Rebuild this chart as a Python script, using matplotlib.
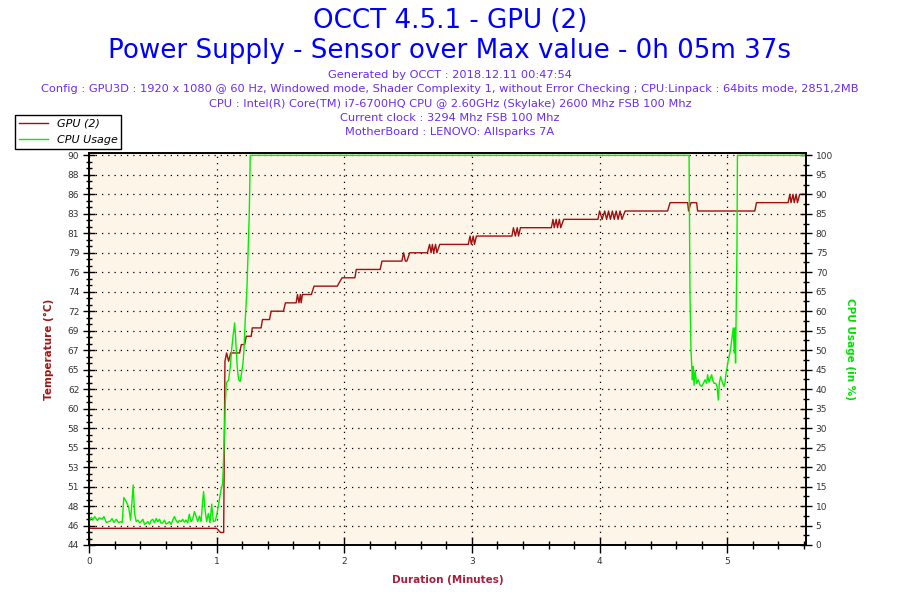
import matplotlib
matplotlib.use("Agg")
import matplotlib.pyplot as plt
from matplotlib.ticker import AutoMinorLocator
import numpy as np

# GPU (2) temperature, minutes / deg C
gpu_time = [0.0, 1.00, 1.03, 1.055, 1.065, 1.078, 1.094, 1.11, 1.18, 1.193, 1.219, 1.232,
            1.271, 1.279, 1.348, 1.359, 1.414, 1.427, 1.523, 1.539, 1.623, 1.633, 1.645,
            1.656, 1.662, 1.672, 1.742, 1.763, 1.945, 1.982, 2.083, 2.094, 2.281, 2.295,
            2.451, 2.465, 2.478, 2.49, 2.513, 2.651, 2.668, 2.68, 2.69, 2.70, 2.715, 2.725,
            2.748, 2.971, 2.985, 2.995, 3.01, 3.02, 3.035, 3.313, 3.325, 3.34, 3.355, 3.365,
            3.38, 3.622, 3.635, 3.645, 3.66, 3.67, 3.685, 3.695, 3.719, 3.987, 4.0, 4.02,
            4.04, 4.055, 4.07, 4.085, 4.1, 4.115, 4.13, 4.145, 4.16, 4.175, 4.2, 4.533,
            4.552, 4.69, 4.697, 4.716, 4.76, 4.768, 5.216, 5.229, 5.477, 5.49, 5.50, 5.515,
            5.525, 5.54, 5.55, 5.568, 5.617]
gpu_temp = [46, 46, 45.5, 45.5, 66, 67, 66, 67, 67, 68, 68, 69,
            69, 70, 70, 71, 71, 72, 72, 73, 73, 74, 73,
            74, 73, 74, 74, 75, 75, 76, 76, 77, 77, 78,
            78, 79, 78, 78, 79, 79, 80, 79, 80, 79, 80, 79,
            80, 80, 81, 80, 81, 80, 81, 81, 82, 81, 82, 81,
            82, 82, 83, 82, 83, 82, 83, 82, 83, 83, 84, 83,
            84, 83, 84, 83, 84, 83, 84, 83, 84, 83, 84, 84,
            85, 85, 84, 85, 85, 84, 84, 85, 85, 86, 85, 86,
            85, 86, 85, 86, 86]

# CPU usage, minutes / percent
cpu_time = [0.0, 0.018, 0.031, 0.044, 0.065, 0.083, 0.102, 0.117, 0.135, 0.154, 0.169,
            0.18, 0.195, 0.214, 0.232, 0.247, 0.26, 0.273, 0.292, 0.31, 0.326, 0.346,
            0.357, 0.37, 0.383, 0.396, 0.409, 0.422, 0.435, 0.448, 0.461, 0.474, 0.487,
            0.5, 0.513, 0.526, 0.539, 0.552, 0.565, 0.578, 0.591, 0.604, 0.617, 0.63,
            0.643, 0.656, 0.669, 0.682, 0.695, 0.708, 0.721, 0.734, 0.747, 0.76, 0.773,
            0.786, 0.799, 0.812, 0.826, 0.839, 0.852, 0.865, 0.878, 0.891, 0.898, 0.909,
            0.922, 0.935, 0.948, 0.961, 0.974, 0.99, 1.003, 1.021, 1.034, 1.047, 1.057,
            1.068, 1.076, 1.094, 1.107, 1.117, 1.128, 1.141, 1.148, 1.154, 1.161, 1.172,
            1.185, 1.198, 1.206, 1.214, 1.224, 1.237, 1.247, 1.255, 1.26, 1.263,
            4.701, 4.708, 4.716, 4.727, 4.732, 4.74, 4.748, 4.76, 4.773, 4.787, 4.8,
            4.813, 4.826, 4.839, 4.846, 4.857, 4.87, 4.878, 4.885, 4.896, 4.909, 4.92,
            4.93, 4.938, 4.948, 4.956, 4.964, 4.974, 4.982, 4.99, 5.0, 5.008, 5.021,
            5.029, 5.039, 5.047, 5.055, 5.06, 5.065, 5.07, 5.076, 5.08, 5.617]
cpu_usage = [6.0, 7.1, 6.4, 7.3, 6.3, 7.0, 6.6, 7.3, 5.8, 6.0, 6.2,
             6.8, 5.8, 6.6, 5.7, 6.0, 5.8, 12.2, 11.1, 9.8, 6.4, 15.4,
             8.1, 6.0, 6.4, 5.7, 6.0, 6.6, 5.3, 5.6, 6.0, 5.3, 6.3,
             6.6, 5.7, 6.8, 6.0, 6.6, 5.6, 5.7, 6.4, 5.4, 5.6, 6.0,
             5.3, 6.4, 7.3, 6.3, 5.7, 6.3, 6.0, 6.6, 5.9, 6.4, 5.7,
             7.9, 6.0, 6.6, 8.6, 7.3, 6.0, 7.4, 6.0, 11.6, 13.7, 9.0,
             6.0, 8.1, 5.7, 10.5, 6.0, 6.2, 8.1, 11.6, 14.1, 15.8, 24.4,
             36.5, 41.6, 42.4, 45.8, 50.0, 53.5, 57.0, 53.5, 50.0, 45.8, 42.4,
             42.0, 44.8, 46.5, 50.0, 57.8, 65.5, 75.8, 84.3, 93.0, 100,
             100, 64.7, 50.0, 42.4, 45.8, 41.0, 44.8, 41.5, 42.4, 41.0, 40.7,
             41.5, 42.4, 41.5, 43.7, 41.8, 43.0, 43.7, 42.4, 41.5, 41.5, 40.7,
             37.2, 41.5, 43.2, 42.4, 41.5, 40.7, 41.5, 44.1, 45.8, 47.5, 49.3,
             51.0, 53.5, 55.7, 49.3, 55.7, 46.7, 59.5, 75.8, 100, 100]

temp_tick_labels = [44, 46, 48, 51, 53, 55, 58, 60, 62, 65, 67, 69, 72, 74, 76, 79, 81, 83, 86, 88, 90]
temp_min, temp_span = 44, 140 / 3      # left scale covers the same range as 0..100 %
cpu_ticks = list(range(0, 101, 5))
cpu_top = 100.6                        # a little headroom so the 100 % line shows
x_ticks = [0, 1, 2, 3, 4, 5]
x_max = 5.617

red = "#a01010"
green = "#00ee00"
bg = "#fdf6e8"
sub_col = "#6a2cf0"

fig = plt.figure(figsize=(9, 6), dpi=100)
ax = fig.add_axes([89 / 900, 55 / 600, 717 / 900, 392 / 600])
ax2 = ax.twinx()
ax.set_facecolor(bg)

l1, = ax.plot(gpu_time, gpu_temp, color=red, lw=1.0, label="GPU (2)")
l2, = ax2.plot(cpu_time, cpu_usage, color=green, lw=1.0, label="CPU Usage")

ax.set_xlim(0, x_max)
ax.set_ylim(temp_min, temp_min + temp_span * cpu_top / 100)
ax2.set_ylim(0, cpu_top)

ax.set_xticks(x_ticks)
ax.xaxis.set_minor_locator(AutoMinorLocator(5))
ax.set_yticks(np.linspace(temp_min, temp_min + temp_span, len(temp_tick_labels)))
ax.set_yticklabels([str(v) for v in temp_tick_labels])
ax.yaxis.set_minor_locator(AutoMinorLocator(3))
ax2.set_yticks(cpu_ticks)
ax2.yaxis.set_minor_locator(AutoMinorLocator(2))

for a in (ax, ax2):
    a.tick_params(which="major", direction="inout", length=8, width=1, labelsize=6.5,
                  labelcolor="#333333", color="black", pad=3)
    a.tick_params(which="minor", direction="inout", length=4, width=1, color="black")
    for s in a.spines.values():
        s.set_color("black")
        s.set_linewidth(1.2)
ax.tick_params(axis="x", which="major", length=12)
ax.tick_params(axis="x", which="minor", length=6)

ax.grid(True, which="major", color="black", linestyle=(0, (1, 4)), linewidth=0.9)

ax.set_xlabel("Duration (Minutes)", color="#a52040", fontsize=7.5, fontweight="bold", labelpad=6)
ax.set_ylabel("Temperature (°C)", color="#a01818", fontsize=7.5, fontweight="bold", labelpad=10)
ax2.set_ylabel("CPU Usage (in %)", color="#00e000", fontsize=7.5, fontweight="bold",
               rotation=270, labelpad=16)

fig.text(0.5, 1 - 21 / 600, "OCCT 4.5.1 - GPU (2)", ha="center", va="center",
         fontsize=18.8, color="#0000ff")
fig.text(0.5, 1 - 51 / 600, "Power Supply - Sensor over Max value - 0h 05m 37s",
         ha="center", va="center", fontsize=18.8, color="#0000ff")
info_lines = [
    "Generated by OCCT : 2018.12.11 00:47:54",
    "Config : GPU3D : 1920 x 1080 @ 60 Hz, Windowed mode, Shader Complexity 1, without Error Checking ; CPU:Linpack : 64bits mode, 2851,2MB",
    "CPU : Intel(R) Core(TM) i7-6700HQ CPU @ 2.60GHz (Skylake) 2600 Mhz FSB 100 Mhz",
    "Current clock : 3294 Mhz FSB 100 Mhz",
    "MotherBoard : LENOVO: Allsparks 7A",
]
for i, line in enumerate(info_lines):
    fig.text(0.5, 1 - (75 + i * 14.3) / 600, line, ha="center", va="center",
             fontsize=8.2, color=sub_col)

leg = fig.legend([l1, l2], ["GPU (2)", "CPU Usage"], loc="upper left",
                 bbox_to_anchor=(15 / 900, 1 - 115 / 600), fancybox=False,
                 edgecolor="black", framealpha=1, prop={"size": 8, "style": "italic"},
                 handlelength=2.6, borderpad=0.35, labelspacing=0.55, borderaxespad=0,
                 handletextpad=0.8)
leg.get_frame().set_linewidth(1.0)
leg.set_zorder(10)

fig.savefig("out.png", dpi=100)
